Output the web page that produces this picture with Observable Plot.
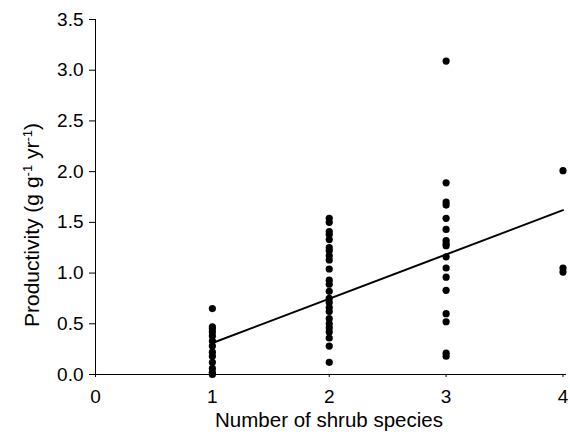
<!DOCTYPE html>
<html><head><meta charset="utf-8">
<script src="https://cdn.jsdelivr.net/npm/d3@7"></script>
<script src="https://cdn.jsdelivr.net/npm/@observablehq/plot@0.6"></script>
<style>body{margin:0;background:#fff}</style>
</head><body><div id="chart"></div>
<script>
// Productivity (g g-1 yr-1) by number of shrub species
const species = [1, 2, 3, 4];
const prod1 = [0.65, 0.47, 0.45, 0.42, 0.38, 0.33, 0.28, 0.22, 0.18, 0.12, 0.06, 0.02, 0.0];
const prod2 = [1.54, 1.50, 1.41, 1.38, 1.33, 1.25, 1.22, 1.17, 1.13, 1.04, 0.93, 0.89, 0.82, 0.75, 0.71, 0.66, 0.62, 0.55, 0.50, 0.46, 0.42, 0.36, 0.28, 0.12];
const prod3 = [3.09, 1.89, 1.70, 1.67, 1.54, 1.43, 1.32, 1.29, 1.27, 1.16, 1.05, 0.96, 0.83, 0.60, 0.52, 0.21, 0.18];
const prod4 = [2.01, 1.05, 1.01];
const fitX = [1, 4];
const fitY = [0.31, 1.62];
const xTicks = [0, 1, 2, 3, 4];
const yTicks = [0, 0.5, 1.0, 1.5, 2.0, 2.5, 3.0, 3.5];

const groups = [prod1, prod2, prod3, prod4];
const points = groups.flatMap((vals, i) => vals.map(v => ({x: species[i], y: v})));
const fit = fitX.map((x, i) => ({x, y: fitY[i]}));

const font = "'Liberation Sans', Arial, Helvetica, sans-serif";
const chart = Plot.plot({
  width: 570, height: 435,
  marginLeft: 95, marginRight: 4, marginTop: 19, marginBottom: 61,
  style: {fontFamily: font, fontSize: "19px", color: "#000", background: "#fff"},
  x: {domain: [0, 4.03], ticks: xTicks, tickSize: 3, tickPadding: 12, tickFormat: d3.format("d"), label: null},
  y: {domain: [0, 3.5], ticks: yTicks, tickSize: 6, tickPadding: 6, tickFormat: d3.format(".1f"), label: null},
  marks: [
    Plot.ruleY([0], {stroke: "#000", strokeWidth: 1}),
    Plot.ruleX([0], {y1: 0, y2: 3.5, stroke: "#000", strokeWidth: 1}),
    Plot.line(fit, {x: "x", y: "y", stroke: "#000", strokeWidth: 2}),
    Plot.dot(points, {x: "x", y: "y", r: 3.6, fill: "#000", stroke: "none"})
  ]
});
document.getElementById("chart").appendChild(chart);

const svg = d3.select(chart);
svg.append("text")
  .attr("x", 329).attr("y", 427)
  .attr("text-anchor", "middle")
  .style("font-family", font).style("font-size", "20.5px").attr("fill", "#000")
  .text("Number of shrub species");

const yl = svg.append("text")
  .attr("transform", "translate(39,225) rotate(-90)")
  .attr("text-anchor", "middle")
  .style("font-family", font).style("font-size", "21px").attr("fill", "#000");
yl.append("tspan").text("Productivity (g g");
yl.append("tspan").attr("baseline-shift", "super").style("font-size", "13px").text("-1");
yl.append("tspan").text(" yr");
yl.append("tspan").attr("baseline-shift", "super").style("font-size", "13px").text("-1");
yl.append("tspan").text(")");
</script>
</body></html>
